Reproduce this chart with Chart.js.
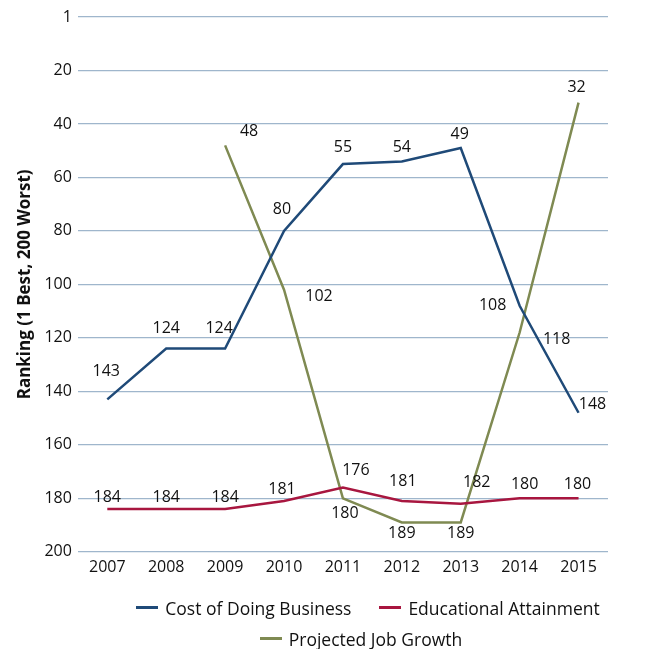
<!DOCTYPE html>
<html>
<head>
<meta charset="utf-8">
<script src="https://cdn.jsdelivr.net/npm/chart.js@4"></script>
<style>
  body { margin: 0; background: #fff; }
  #wrap { width: 650px; height: 649px; position: relative; font-family: 'Open Sans', 'Noto Sans', sans-serif; }
  #legend { position: absolute; left: 36px; top: 592px; width: 650px; color: #111; font-size: 17.5px; }
  .row { display: flex; justify-content: center; height: 31px; align-items: center; }
  .row.first { padding-left: 14px; }
  .item { display: flex; align-items: center; margin: 0 14px; }
  .swatch { width: 22px; height: 3px; margin-right: 7px; }
</style>
</head>
<body>
<div id="wrap"><canvas id="chart"></canvas><div id="legend"></div></div>
<script>
const years = ['2007', '2008', '2009', '2010', '2011', '2012', '2013', '2014', '2015'];
const costOfDoingBusiness = [143, 124, 124, 80, 55, 54, 49, 108, 148];
const educationalAttainment = [184, 184, 184, 181, 176, 181, 182, 180, 180];
const projectedJobGrowth = [null, null, 48, 102, 180, 189, 189, 118, 32];
const yTicks = [0, 20, 40, 60, 80, 100, 120, 140, 160, 180, 200];

const FONT = "'Open Sans', 'Noto Sans', sans-serif";

// where each value label sits relative to its point [dx, dy]
const labelOffsets = [
  [[-1, -28], [0, -20], [-6, -20], [-2, -21], [0, -17], [0, -14], [-1, -14], [-27, 0], [14, -8]],
  [[0, -12], [0, -12], [0, -12], [-2, -12], [13, -17], [1, -20], [16, -21], [5, -14], [-1, -14]],
  [null, null, [24, -14], [35, 7], [2, 15], [0, 11], [0, 11], [37, 7], [-2, -15]]
];

const valueLabels = {
  id: 'valueLabels',
  afterDatasetsDraw(chart) {
    const ctx = chart.ctx;
    ctx.save();
    ctx.font = '16px ' + FONT;
    ctx.fillStyle = '#111';
    ctx.textAlign = 'center';
    ctx.textBaseline = 'middle';
    chart.data.datasets.forEach((ds, di) => {
      const meta = chart.getDatasetMeta(di);
      meta.data.forEach((pt, i) => {
        const v = ds.data[i];
        if (v == null) return;
        const off = labelOffsets[di][i] || [0, -14];
        ctx.fillText(String(v), pt.x + off[0], pt.y + off[1]);
      });
    });
    ctx.restore();
  }
};

const chart = new Chart(document.getElementById('chart'), {
  type: 'line',
  data: {
    labels: years,
    datasets: [
      {
        label: 'Cost of Doing Business',
        data: costOfDoingBusiness,
        borderColor: '#1f4a78',
        backgroundColor: '#1f4a78',
        borderWidth: 2.5,
        pointRadius: 0,
        tension: 0
      },
      {
        label: 'Educational Attainment',
        data: educationalAttainment,
        borderColor: '#a8163f',
        backgroundColor: '#a8163f',
        borderWidth: 2.5,
        pointRadius: 0,
        tension: 0
      },
      {
        label: 'Projected Job Growth',
        data: projectedJobGrowth,
        borderColor: '#7f8a52',
        backgroundColor: '#7f8a52',
        borderWidth: 2.5,
        pointRadius: 0,
        tension: 0
      }
    ]
  },
  options: {
    responsive: true,
    maintainAspectRatio: false,
    animation: false,
    layout: { padding: { left: 15, right: 42, top: 17, bottom: 66 } },
    plugins: {
      tooltip: { enabled: false },
      legend: { display: false }
    },
    scales: {
      x: {
        offset: true,
        grid: { display: false, drawTicks: false },
        border: { display: false },
        ticks: { color: '#111', font: { family: FONT, size: 16 }, padding: 6 }
      },
      y: {
        reverse: true,
        min: 0,
        max: 200,
        afterBuildTicks(axis) { axis.ticks = yTicks.map(v => ({ value: v })); },
        grid: { color: '#9fb6cc', lineWidth: 1.2, drawTicks: false },
        border: { display: false },
        ticks: {
          color: '#111',
          font: { family: FONT, size: 16 },
          padding: 6,
          callback: v => (v === 0 ? '1' : String(v))
        },
        title: {
          display: true,
          text: 'Ranking (1 Best, 200 Worst)',
          color: '#111',
          font: { family: FONT, size: 17, weight: 'bold' },
          padding: { top: 0, bottom: 3 }
        }
      }
    }
  },
  plugins: [valueLabels]
});

// legend rows: two series on the first line, the third below
const legendRows = [[0, 1], [2]];
const legendEl = document.getElementById('legend');
legendRows.forEach((row, ri) => {
  const r = document.createElement('div');
  r.className = ri === 0 ? 'row first' : 'row';
  row.forEach(i => {
    const ds = chart.data.datasets[i];
    const it = document.createElement('div');
    it.className = 'item';
    const sw = document.createElement('span');
    sw.className = 'swatch';
    sw.style.background = ds.borderColor;
    const tx = document.createElement('span');
    tx.textContent = ds.label;
    it.appendChild(sw);
    it.appendChild(tx);
    r.appendChild(it);
  });
  legendEl.appendChild(r);
});
</script>
</body>
</html>
